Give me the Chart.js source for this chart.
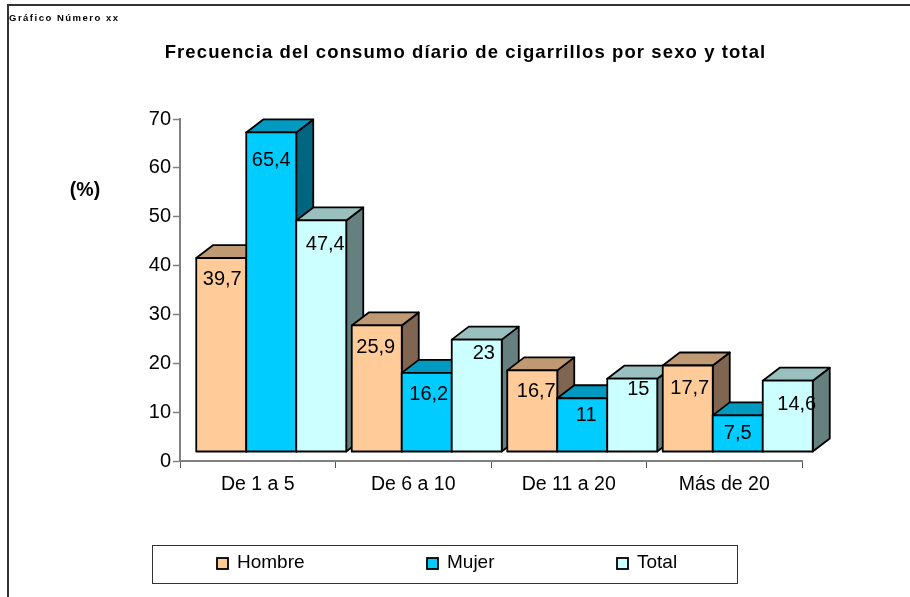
<!DOCTYPE html>
<html>
<head>
<meta charset="utf-8">
<title>Frecuencia del consumo</title>
<script src="https://cdn.jsdelivr.net/npm/chart.js@4"></script>
<style>
    html, body { margin: 0; padding: 0; background: #fff; }
    canvas { display: block; }
</style>
</head>
<body>
<canvas id="grafico" width="910" height="597"></canvas>
<script>
// Values
const categorias = ['De 1 a 5', 'De 6 a 10', 'De 11 a 20', 'Más de 20'];
const hombre = [39.7, 25.9, 16.7, 17.7];
const mujer = [65.4, 16.2, 11, 7.5];
const total = [47.4, 23, 15, 14.6];

const titulo = 'Frecuencia del consumo díario de cigarrillos por sexo y total';
const subtitulo = 'Gráfico Número xx';
const unidad = '(%)';

// front, top and side colour of each series
const colores = [
    { front: '#ffcc99', top: '#bf9973', side: '#806650' },
    { front: '#00ccff', top: '#0099bf', side: '#006680' },
    { front: '#ccffff', top: '#99bfbf', side: '#668080' }
];

const FONT = '"Liberation Sans", Arial, sans-serif';

// The excel 3D look: front faces sit up and right of the axis, depth goes up and right again
const shiftX = 13.5, shiftY = -9, depthX = 17, depthY = -13;

// label nudge from the bar centre / bar top, per series and category (excel placed these by hand)
const labelDx = [[1, -1, 4, 2], [0, 2, 4, 0], [4, 7, 6, 9]];
const labelDy = [[21, 22, 21, 23], [28, 22, 17, 18], [24, 14, 11, 24]];

function face(ctx, pts, fill) {
    ctx.beginPath();
    pts.forEach((p, i) => i ? ctx.lineTo(p[0], p[1]) : ctx.moveTo(p[0], p[1]));
    ctx.closePath();
    ctx.fillStyle = fill;
    ctx.fill();
    ctx.stroke();
}

const barras3d = {
    id: 'barras3d',
    // we draw the boxes ourselves from the bar elements, so cancel the flat ones
    beforeDatasetsDraw(chart) {
        const ctx = chart.ctx;
        ctx.save();
        ctx.strokeStyle = '#000';
        ctx.lineWidth = 1.8;
        ctx.lineJoin = 'round';
        categorias.forEach((c, i) => {
            chart.data.datasets.forEach((ds, d) => {
                const el = chart.getDatasetMeta(d).data[i];
                const left = el.x - el.width / 2 + shiftX, right = el.x + el.width / 2 + shiftX;
                const top = el.y + shiftY, base = el.base + shiftY;
                face(ctx, [[right, top], [right + depthX, top + depthY], [right + depthX, base + depthY], [right, base]], colores[d].side);
                face(ctx, [[left, top], [left + depthX, top + depthY], [right + depthX, top + depthY], [right, top]], colores[d].top);
                face(ctx, [[left, top], [right, top], [right, base], [left, base]], colores[d].front);
            });
        });
        // data labels go on top of everything
        ctx.fillStyle = '#000';
        ctx.font = '20px ' + FONT;
        ctx.textAlign = 'center';
        ctx.textBaseline = 'middle';
        chart.data.datasets.forEach((ds, d) => {
            chart.getDatasetMeta(d).data.forEach((el, i) => {
                const txt = String(ds.data[i]).replace('.', ',');
                ctx.fillText(txt, el.x + shiftX + labelDx[d][i], el.y + shiftY + labelDy[d][i]);
            });
        });
        ctx.restore();
        return false;
    },
    afterDraw(chart) {
        const ctx = chart.ctx;
        ctx.save();
        // outer frame, cut by the right and bottom edge of the page
        ctx.strokeStyle = '#333';
        ctx.lineWidth = 2;
        ctx.beginPath();
        ctx.moveTo(8, 597);
        ctx.lineTo(8, 5);
        ctx.lineTo(910, 5);
        ctx.stroke();

        ctx.fillStyle = '#000';
        ctx.textBaseline = 'middle';
        ctx.textAlign = 'left';
        ctx.font = 'bold 9.5px ' + FONT;
        ctx.letterSpacing = '1.5px';
        ctx.fillText(subtitulo, 9, 18);

        ctx.font = 'bold 18.5px ' + FONT;
        ctx.letterSpacing = '1.1px';
        ctx.textAlign = 'center';
        ctx.fillText(titulo, 465.5, 53);

        ctx.letterSpacing = '0px';
        ctx.font = 'bold 19.5px ' + FONT;
        ctx.fillText(unidad, 85, 191);

        // legend box
        ctx.strokeStyle = '#333';
        ctx.lineWidth = 1;
        ctx.strokeRect(152.5, 545.5, 585, 38);
        ctx.font = '19px ' + FONT;
        ctx.textAlign = 'left';
        const legendX = [217, 427, 617];
        chart.data.datasets.forEach((ds, d) => {
            ctx.fillStyle = colores[d].front;
            ctx.strokeStyle = '#000';
            ctx.lineWidth = 1.8;
            ctx.fillRect(legendX[d], 558, 11, 11);
            ctx.strokeRect(legendX[d], 558, 11, 11);
            ctx.fillStyle = '#000';
            ctx.fillText(ds.label, legendX[d] + 20, 563);
        });
        ctx.restore();
    }
};

new Chart(document.getElementById('grafico'), {
    type: 'bar',
    data: {
        labels: categorias,
        datasets: [
            { label: 'Hombre', data: hombre },
            { label: 'Mujer', data: mujer },
            { label: 'Total', data: total }
        ]
    },
    options: {
        responsive: false,
        animation: false,
        layout: { padding: { top: 119, right: 108, bottom: 0, left: 0 } },
        datasets: { bar: { categoryPercentage: 150 / 155.5, barPercentage: 1 } },
        plugins: {
            legend: { display: false },
            title: { display: false },
            tooltip: { enabled: false }
        },
        scales: {
            x: {
                afterFit: s => { s.height = 136; },
                border: { color: '#808080', width: 2 },
                grid: { drawOnChartArea: false, tickLength: 7, color: '#555', tickWidth: 1 },
                ticks: { color: '#000', font: { family: FONT, size: 19.5 }, padding: 5, maxRotation: 0 }
            },
            y: {
                min: 0,
                max: 70,
                afterFit: s => { s.width = 180; },
                border: { color: '#808080', width: 2 },
                grid: { drawOnChartArea: false, tickLength: 7, color: '#808080', tickWidth: 1.5 },
                ticks: { stepSize: 10, color: '#000', font: { family: FONT, size: 20 }, padding: 2 }
            }
        }
    },
    plugins: [barras3d]
});
</script>
</body>
</html>
